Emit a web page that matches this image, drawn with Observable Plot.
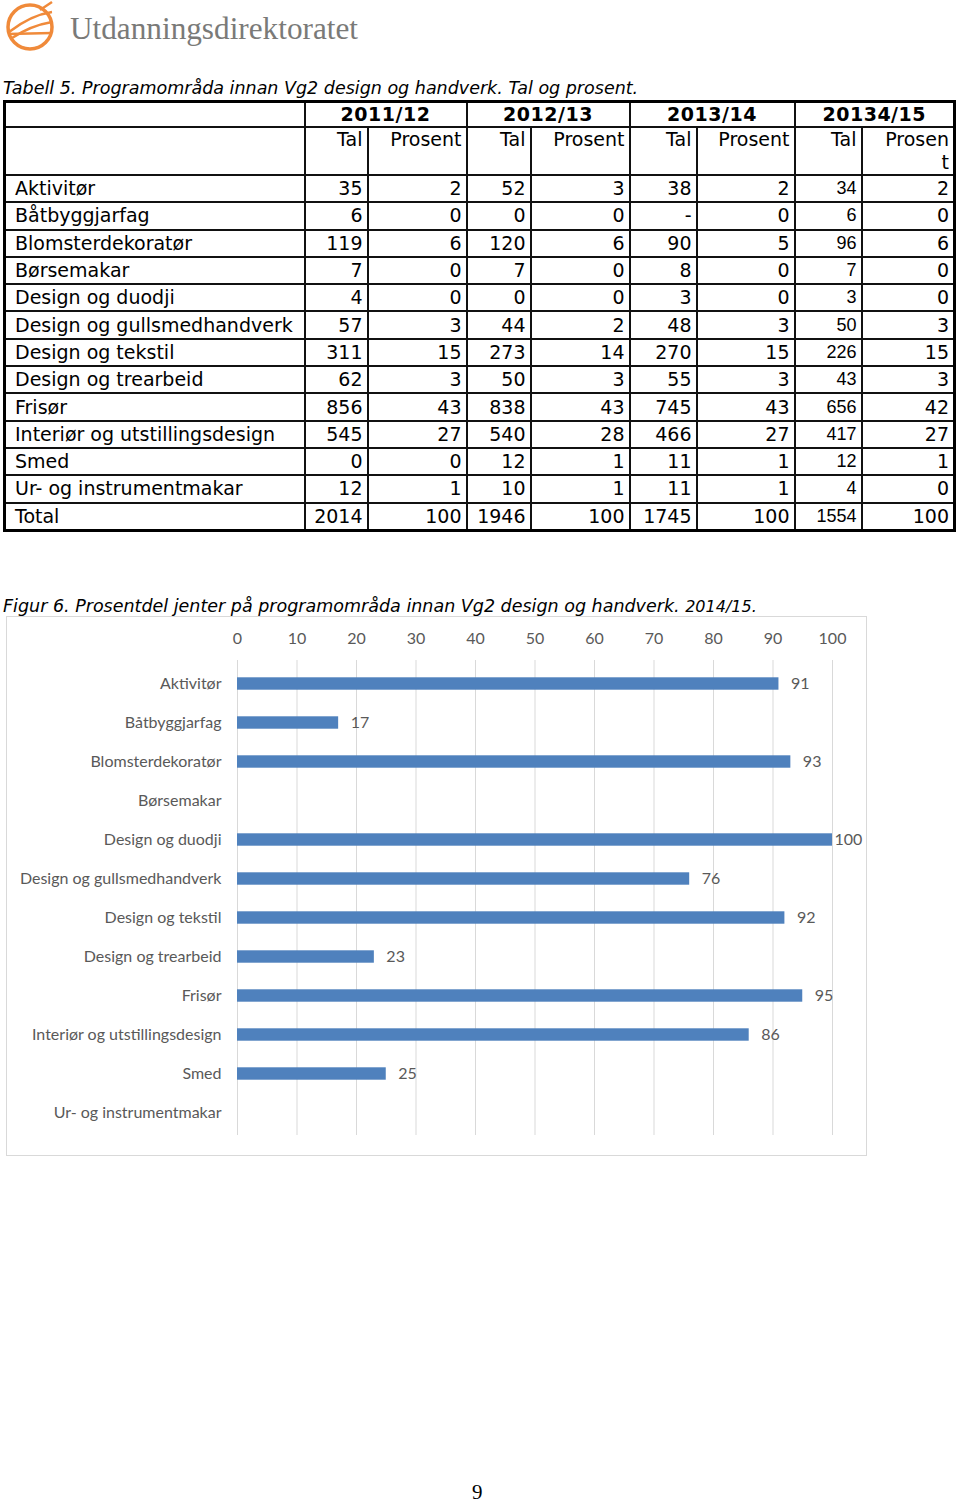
<!DOCTYPE html>
<html>
<head>
<meta charset="utf-8">
<script src="https://cdn.jsdelivr.net/npm/d3@7"></script>
<script src="https://cdn.jsdelivr.net/npm/@observablehq/plot@0.6"></script>
<style>
  html, body { margin: 0; padding: 0; background: #fff; }
  body { width: 960px; height: 1503px; position: relative; overflow: hidden; }
  .abs { position: absolute; }
  .cap { font-family: "DejaVu Sans", Verdana, sans-serif; font-style: italic; font-size: 17.5px; color: #000; white-space: nowrap; }
  table.t { border-collapse: collapse; font-family: "DejaVu Sans", Verdana, sans-serif; font-size: 19px; color: #000; table-layout: fixed; border: 3px solid #000; }
  table.t td { border: 2px solid #111; padding: 0 4px 0 4px; height: 25.3px; line-height: 25px; text-align: right; white-space: nowrap; overflow: hidden; }
  table.t td.lab { text-align: left; padding-left: 9px; }
  table.t tr.h1 td { font-weight: bold; text-align: center; font-size: 19px; letter-spacing: 0.5px; height: 23px; line-height: 23px; }
  table.t tr.h2 td { vertical-align: top; height: 44px; line-height: 23px; }
  table.t td.alt { font-family: "Liberation Sans", Arial, sans-serif; font-size: 18px; }
  #chartbox { left: 6px; top: 616px; width: 859px; height: 538px; border: 1px solid #d9d9d9; }
  #chartbox svg { overflow: visible; }
</style>
</head>
<body>
<!-- logo -->
<svg class="abs" style="left:0;top:0" width="380" height="60">
  <circle cx="30" cy="27" r="22" fill="none" stroke="#F08A3A" stroke-width="3.5"/>
  <path d="M9 32 C 22 22, 38 14, 52 12" fill="none" stroke="#F08A3A" stroke-width="2.5"/>
  <path d="M12 38 C 24 30, 40 24, 52 22" fill="none" stroke="#F08A3A" stroke-width="2.5"/>
  <path d="M8 34 L 52 33" fill="none" stroke="#F08A3A" stroke-width="2.5"/>
  <path d="M40 10 L 52 2" fill="none" stroke="#F08A3A" stroke-width="2.5"/>
  <text x="70" y="39" font-family="Liberation Serif, DejaVu Serif, serif" font-size="31" fill="#7a7a78" textLength="288" lengthAdjust="spacingAndGlyphs">Utdanningsdirektoratet</text>
</svg>

<div class="abs cap" style="left:3px;top:78px;">Tabell 5. Programområda innan Vg2 design og handverk. Tal og prosent.</div>
<div class="abs" id="tablewrap" style="left:3px;top:100px;"></div>

<div class="abs cap" style="left:3px;top:596px;">Figur 6. Prosentdel jenter på programområda innan Vg2 design og handverk. <span style="font-size:16px">2014/15.</span></div>
<div class="abs" id="chartbox"></div>

<div class="abs" style="left:472px;top:1480px;font-family:'Liberation Serif',serif;font-size:21px;color:#000;">9</div>

<script>
// ---------- table data ----------
const years = ["2011/12", "2012/13", "2013/14", "20134/15"];
const rowNames = ["Aktivitør", "Båtbyggjarfag", "Blomsterdekoratør", "Børsemakar", "Design og duodji",
  "Design og gullsmedhandverk", "Design og tekstil", "Design og trearbeid", "Frisør",
  "Interiør og utstillingsdesign", "Smed", "Ur- og instrumentmakar", "Total"];
const tal2011 = [35, 6, 119, 7, 4, 57, 311, 62, 856, 545, 0, 12, 2014];
const pct2011 = [2, 0, 6, 0, 0, 3, 15, 3, 43, 27, 0, 1, 100];
const tal2012 = [52, 0, 120, 7, 0, 44, 273, 50, 838, 540, 12, 10, 1946];
const pct2012 = [3, 0, 6, 0, 0, 2, 14, 3, 43, 28, 1, 1, 100];
const tal2013 = [38, "-", 90, 8, 3, 48, 270, 55, 745, 466, 11, 11, 1745];
const pct2013 = [2, 0, 5, 0, 0, 3, 15, 3, 43, 27, 1, 1, 100];
const tal2014 = [34, 6, 96, 7, 3, 50, 226, 43, 656, 417, 12, 4, 1554];
const pct2014 = [2, 0, 6, 0, 0, 3, 15, 3, 42, 27, 1, 0, 100];

// ---------- chart data ----------
const categories = ["Aktivitør", "Båtbyggjarfag", "Blomsterdekoratør", "Børsemakar", "Design og duodji",
  "Design og gullsmedhandverk", "Design og tekstil", "Design og trearbeid", "Frisør",
  "Interiør og utstillingsdesign", "Smed", "Ur- og instrumentmakar"];
const shareGirls = [91, 17, 93, null, 100, 76, 92, 23, 95, 86, 25, null];
const xTicks = [0, 10, 20, 30, 40, 50, 60, 70, 80, 90, 100];

// ---------- build table ----------
const colW = [300, 63, 99, 64, 99, 67, 98, 67, 93];
let html = '<table class="t"><colgroup>' + colW.map(w => `<col style="width:${w}px">`).join("") + '</colgroup>';
html += '<tr class="h1"><td></td>' + years.map(y => `<td colspan="2">${y}</td>`).join("") + '</tr>';
html += '<tr class="h2"><td></td>' + years.map((y, i) => `<td>Tal</td><td>${i === 3 ? "Prosen<br>t" : "Prosent"}</td>`).join("") + '</tr>';
const cols = [tal2011, pct2011, tal2012, pct2012, tal2013, pct2013, tal2014, pct2014];
rowNames.forEach((n, r) => {
  html += `<tr><td class="lab">${n}</td>` + cols.map((c, ci) => `<td${ci === 6 ? ' class="alt"' : ''}>${c[r]}</td>`).join("") + '</tr>';
});
html += '</table>';
document.getElementById("tablewrap").innerHTML = html;

// ---------- chart ----------
const data = categories.map((name, i) => ({name, value: shareGirls[i]}));
const withValue = data.filter(d => d.value != null);
const chart = Plot.plot({
  width: 859,
  height: 538,
  marginLeft: 230,
  marginRight: 34,
  marginTop: 43,
  marginBottom: 20,
  x: {domain: [0, 100]},
  y: {domain: categories, padding: 0},
  style: {fontFamily: "Lato, 'Open Sans', sans-serif", fontSize: "16px", color: "#595959", background: "#fff", overflow: "visible"},
  marks: [
    Plot.gridX(xTicks, {stroke: "#d9d9d9", strokeOpacity: 1}),
    Plot.axisX(xTicks, {anchor: "top", tickSize: 0, tickPadding: 17, label: null, fill: "#595959", fontSize: 16}),
    Plot.axisY({tickSize: 0, tickPadding: 16, label: null, fill: "#595959", fontSize: 16}),
    Plot.barX(withValue, {x: "value", y: "name", fill: "#4F81BD", insetTop: 13.3, insetBottom: 13.3}),
    Plot.text(withValue.filter(d => d.value < 100), {x: "value", y: "name", text: d => String(d.value), dx: 12, textAnchor: "start", fill: "#595959", fontSize: 16}),
    Plot.text(withValue.filter(d => d.value >= 100), {x: "value", y: "name", text: d => String(d.value), dx: 2, textAnchor: "start", fill: "#595959", fontSize: 16})
  ]
});
document.getElementById("chartbox").appendChild(chart);
</script>
</body>
</html>
